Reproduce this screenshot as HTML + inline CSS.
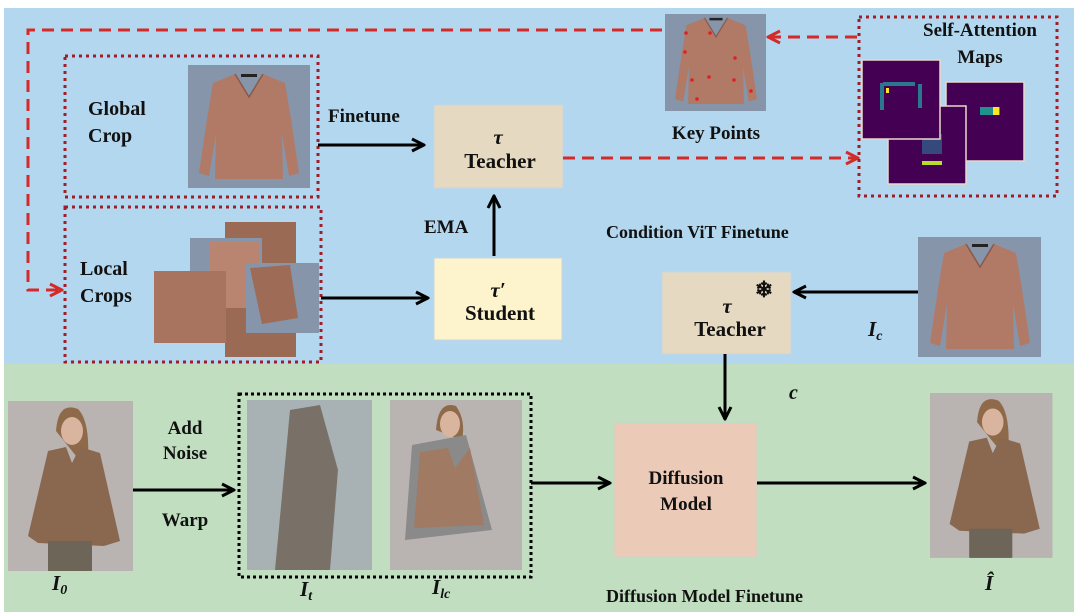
<!DOCTYPE html>
<html><head><meta charset="utf-8"><style>
html,body{margin:0;padding:0;background:#fff;}
svg{display:block;}
text{font-family:"Liberation Serif",serif;font-weight:bold;fill:#111;}
</style></head><body>
<svg width="1074" height="612" viewBox="0 0 1074 612" xmlns="http://www.w3.org/2000/svg">
<defs>
<marker id="ab" viewBox="0 0 10 10" refX="9" refY="5" markerWidth="5" markerHeight="5" orient="auto"><path d="M1,1 L9,5 L1,9" fill="none" stroke="#000" stroke-width="2"/></marker>
<marker id="ar" viewBox="0 0 10 10" refX="9" refY="5" markerWidth="5" markerHeight="5" orient="auto"><path d="M1,1 L9,5 L1,9" fill="none" stroke="#d42a2a" stroke-width="2"/></marker>
<g id="sw">
<path d="M-14,-55 L-36,-46 L-42,-10 L-50,44 L-40,47 L-33,5 L-34,50 L34,50 L33,5 L40,47 L50,44 L42,-10 L36,-46 L14,-55 L0,-32 Z" fill="#b07a66"/>
<path d="M-14,-55 L0,-32 L14,-55" fill="none" stroke="#8a5a48" stroke-width="1.5"/>
<rect x="-8" y="-55" width="16" height="3" fill="#222"/>
</g>
<g id="person">
<rect x="0" y="0" width="125" height="170" fill="#b9b4b2"/>
<path d="M48,30 Q50,0 70,8 Q82,20 80,60 L72,60 Z" fill="#8f6a4a"/>
<ellipse cx="64" cy="30" rx="11" ry="14" fill="#d9b49e"/>
<path d="M40,50 L58,46 L64,62 L72,46 L92,52 L112,140 L96,145 L30,142 L20,135 Z" fill="#8a6850"/>
<rect x="40" y="140" width="44" height="30" fill="#6d6558"/>
</g>
</defs>
<rect x="4" y="8" width="1070" height="356" fill="#b3d7ee"/>
<rect x="4" y="364" width="1070" height="248" fill="#c1dfc0"/>

<rect x="65" y="56" width="253" height="141" fill="none" stroke="#a01c28" stroke-width="3" stroke-dasharray="3,4"/>
<rect x="188" y="65" width="122" height="123" fill="#8795aa"/>
<use href="#sw" x="249" y="129"/>
<text x="88" y="115" font-size="20">Global</text>
<text x="88" y="142" font-size="20">Crop</text>
<rect x="65" y="207" width="256" height="155" fill="none" stroke="#a01c28" stroke-width="3" stroke-dasharray="3,4"/>
<rect x="225" y="222" width="71" height="135" fill="#9a6a55"/>
<rect x="190" y="238" width="72" height="70" fill="#8795aa"/>
<rect x="210" y="242" width="50" height="66" fill="#b98570"/>
<rect x="154" y="271" width="72" height="72" fill="#a8745f"/>
<rect x="246" y="263" width="73" height="70" fill="#8795aa"/>
<path d="M250,268 L290,265 L298,318 L262,324 Z" fill="#9e6b56"/>
<text x="80" y="275" font-size="20">Local</text>
<text x="80" y="302" font-size="20">Crops</text>

<path d="M662,30 L28,30 L28,290 L62,290" fill="none" stroke="#d42a2a" stroke-width="3" stroke-dasharray="12,7" marker-end="url(#ar)"/>
<text x="328" y="122" font-size="19">Finetune</text>
<line x1="318" y1="145" x2="424" y2="145" stroke="#000" stroke-width="3" marker-end="url(#ab)"/>
<rect x="434" y="105" width="129" height="83" fill="#e6d9c1" stroke="#c9d5dd"/>
<text x="498" y="144" font-size="21" text-anchor="middle" font-style="italic">τ</text>
<text x="500" y="168" font-size="21" text-anchor="middle">Teacher</text>
<text x="424" y="233" font-size="19">EMA</text>
<line x1="494" y1="256" x2="494" y2="196" stroke="#000" stroke-width="3" marker-end="url(#ab)"/>
<rect x="434" y="258" width="128" height="82" fill="#fdf3cc" stroke="#c9d5dd"/>
<text x="498" y="297" font-size="21" text-anchor="middle" font-style="italic">τ′</text>
<text x="500" y="320" font-size="21" text-anchor="middle">Student</text>
<line x1="321" y1="298" x2="428" y2="298" stroke="#000" stroke-width="3" marker-end="url(#ab)"/>

<line x1="563" y1="158" x2="858" y2="158" stroke="#d42a2a" stroke-width="3" stroke-dasharray="12,7" marker-end="url(#ar)"/>
<rect x="665" y="14" width="101" height="97" fill="#8795aa"/>
<use href="#sw" transform="translate(716,63) scale(0.82)"/>
<g fill="#e02020"><circle cx="686" cy="33" r="1.8"/><circle cx="710" cy="33" r="1.8"/><circle cx="685" cy="52" r="1.8"/><circle cx="735" cy="58" r="1.8"/><circle cx="692" cy="80" r="1.8"/><circle cx="709" cy="77" r="1.8"/><circle cx="734" cy="80" r="1.8"/><circle cx="697" cy="99" r="1.8"/><circle cx="751" cy="91" r="1.8"/></g>
<text x="716" y="139" font-size="19" text-anchor="middle">Key Points</text>
<line x1="857" y1="37" x2="768" y2="37" stroke="#d42a2a" stroke-width="3" stroke-dasharray="12,7" marker-end="url(#ar)"/>
<rect x="859" y="17" width="198" height="179" fill="none" stroke="#a01c28" stroke-width="3" stroke-dasharray="3,4"/>
<text x="980" y="36" font-size="19" text-anchor="middle">Self-Attention</text>
<text x="980" y="63" font-size="19" text-anchor="middle">Maps</text>
<rect x="946" y="82" width="78" height="79" fill="#440154" stroke="#e8d8c8" stroke-width="1.5"/>
<rect x="980" y="107" width="20" height="8" fill="#21918c"/><rect x="993" y="107" width="6" height="8" fill="#fde725"/>
<rect x="888" y="106" width="78" height="78" fill="#440154" stroke="#e8d8c8" stroke-width="1.5"/>
<rect x="922" y="134" width="20" height="20" fill="#31688e" opacity=".7"/><rect x="922" y="161" width="20" height="4" fill="#b5de2b"/>
<rect x="862" y="60" width="78" height="79" fill="#440154" stroke="#e8d8c8" stroke-width="1.5"/>
<path d="M882,83 L882,110 M883,84 L915,84 M920,84 L920,108" stroke="#2a788e" stroke-width="4" fill="none"/>
<rect x="886" y="88" width="3" height="5" fill="#fde725"/>
<text x="606" y="238" font-size="18">Condition ViT Finetune</text>
<rect x="918" y="237" width="123" height="120" fill="#8795aa"/>
<use href="#sw" x="980" y="299"/>
<text x="868" y="336" font-size="21" font-style="italic">I<tspan font-size="14" dy="4">c</tspan></text>
<line x1="918" y1="292" x2="794" y2="292" stroke="#000" stroke-width="3" marker-end="url(#ab)"/>
<rect x="662" y="272" width="129" height="82" fill="#e6d9c1" stroke="#c9d5dd"/>
<text x="764" y="297" font-size="22" text-anchor="middle">❄</text>
<text x="727" y="313" font-size="21" text-anchor="middle" font-style="italic">τ</text>
<text x="730" y="336" font-size="21" text-anchor="middle">Teacher</text>
<line x1="725" y1="354" x2="725" y2="419" stroke="#000" stroke-width="3" marker-end="url(#ab)"/>
<text x="789" y="399" font-size="20" font-style="italic">c</text>

<use href="#person" x="8" y="401"/>
<text x="52" y="590" font-size="21" font-style="italic">I<tspan font-size="14" dy="4">0</tspan></text>
<text x="185" y="434" font-size="19" text-anchor="middle">Add</text>
<text x="185" y="459" font-size="19" text-anchor="middle">Noise</text>
<text x="185" y="526" font-size="19" text-anchor="middle">Warp</text>
<line x1="133" y1="490" x2="234" y2="490" stroke="#000" stroke-width="3" marker-end="url(#ab)"/>
<rect x="239" y="394" width="292" height="183" fill="none" stroke="#000" stroke-width="3" stroke-dasharray="3,3"/>
<rect x="247" y="400" width="125" height="170" fill="#a8b2b4"/>
<path d="M290,410 L320,405 L338,470 L330,570 L275,570 Z" fill="#5a4536" opacity=".6"/>
<rect x="390" y="400" width="132" height="170" fill="#b9b4b2"/>
<path d="M436,430 Q438,400 456,406 Q466,420 462,440 Z" fill="#8f6a4a"/>
<ellipse cx="450" cy="424" rx="10" ry="13" fill="#d9b49e"/>
<path d="M412,445 L466,435 L492,530 L405,540 Z" fill="#8a8a8a"/>
<path d="M420,452 L448,448 L455,468 L470,448 L484,525 L414,528 Z" fill="#a07a62"/>
<text x="300" y="596" font-size="21" font-style="italic">I<tspan font-size="14" dy="4">t</tspan></text>
<text x="432" y="594" font-size="21" font-style="italic">I<tspan font-size="14" dy="4">lc</tspan></text>
<line x1="531" y1="483" x2="610" y2="483" stroke="#000" stroke-width="3" marker-end="url(#ab)"/>
<rect x="614" y="423" width="143" height="134" fill="#ebcab7" stroke="#c9d5c9"/>
<text x="686" y="484" font-size="19" text-anchor="middle">Diffusion</text>
<text x="686" y="510" font-size="19" text-anchor="middle">Model</text>
<line x1="757" y1="483" x2="925" y2="483" stroke="#000" stroke-width="3" marker-end="url(#ab)"/>
<use href="#person" transform="translate(930,393) scale(0.98,0.97)"/>
<text x="985" y="590" font-size="21" font-style="italic">Î</text>
<text x="606" y="602" font-size="18">Diffusion Model Finetune</text>
</svg>
</body></html>
